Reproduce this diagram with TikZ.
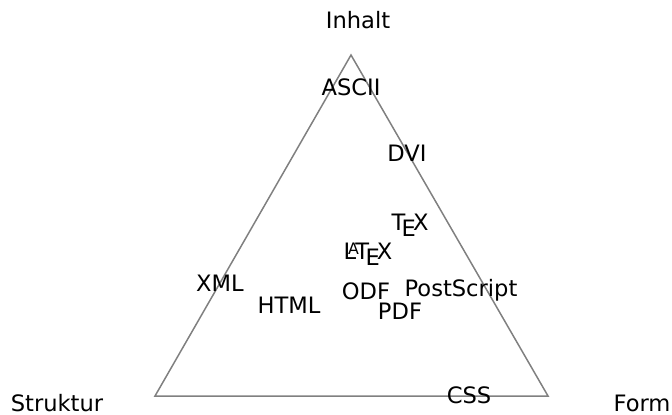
\documentclass[tikz,border=0pt]{standalone}
\usepackage{fontspec}
\setmainfont{DejaVu Sans}
\begin{document}
\begin{tikzpicture}[x=0.5pt,y=-0.5pt,
  lbl/.style={inner sep=0pt,anchor=base,font=\fontsize{11.3}{13}\selectfont},
  tri/.style={draw={rgb,255:red,128;green,128;blue,128},line width=0.75pt,line join=miter}]
\useasboundingbox (0,0) rectangle (672,414);
\coordinate (top) at (351,55);
\coordinate (left) at (155,396);
\coordinate (right) at (548,396);
\draw[tri] (top) -- (left) -- (right) -- cycle;
\node[lbl] (inhalt) at (358,28) {Inhalt};
\node[lbl] (struktur) at (57,411) {Struktur};
\node[lbl] (form) at (642,411) {Form};
\node[lbl] (ascii) at (351,95) {ASCII};
\node[lbl] (dvi) at (407,161) {DVI};
\node[lbl] (tex) at (410,230) {\TeX};
\node[lbl] (latex) at (368,259) {\LaTeX};
\node[lbl] (xml) at (220,291) {XML};
\node[lbl] (html) at (289,313) {HTML};
\node[lbl] (odf) at (366,299) {ODF};
\node[lbl] (pdf) at (400,319) {PDF};
\node[lbl] (ps) at (461,296) {PostScript};
\node[lbl] (css) at (469,403) {CSS};
\end{tikzpicture}
\end{document}
